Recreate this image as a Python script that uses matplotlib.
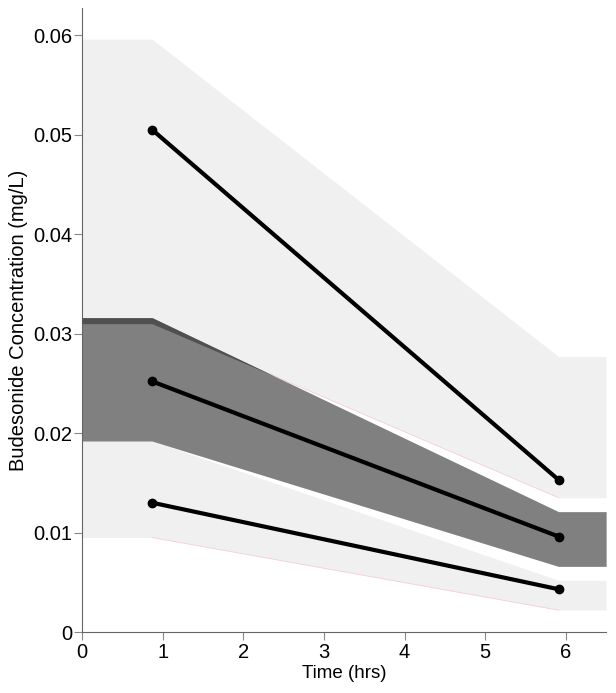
import numpy as np
import matplotlib
matplotlib.use("Agg")
import matplotlib.pyplot as plt

# Band x-support (flat before first and after last time)
band_x = [0.0, 0.87, 5.91, 6.5]
upper_lo = [0.0310, 0.0310, 0.0135, 0.0135]
upper_hi = [0.0596, 0.0596, 0.0277, 0.0277]
med_lo = [0.0192, 0.0192, 0.0066, 0.0066]
med_hi = [0.0316, 0.0316, 0.0121, 0.0121]
lower_lo = [0.0095, 0.0095, 0.0022, 0.0022]
lower_hi = [0.0192, 0.0192, 0.0052, 0.0052]

# Observed percentile lines
obs_t = [0.87, 5.91]
obs_p95 = [0.0505, 0.0153]
obs_p50 = [0.0252, 0.0096]
obs_p05 = [0.0130, 0.0043]

plt.rcParams['font.family'] = ['Liberation Sans', 'DejaVu Sans']
fig = plt.figure(figsize=(6.16, 6.93), dpi=100)
ax = fig.add_axes([0.133, 0.088, 0.851, 0.900])

bx = np.array(band_x)
light = '#f0f0f0'
ax.fill_between(bx, upper_lo, upper_hi, color=light, lw=0, zorder=1)
ax.fill_between(bx, lower_lo, lower_hi, color=light, lw=0, zorder=1)

# faint pink lower edges on sloped part (under the median band)
seg = bx[1:3]
for lo in (upper_lo, med_lo, lower_lo):
    ax.plot(seg, lo[1:3], color='#f7d0d5', lw=0.6, zorder=1.5)

ax.fill_between(bx, med_lo, med_hi, color='#808080', lw=0, zorder=2)

# overlap of upper band with median band (darker strip)
xf = np.linspace(0, 6.5, 400)
ulo = np.interp(xf, bx, upper_lo)
mhi = np.interp(xf, bx, med_hi)
ax.fill_between(xf, ulo, np.maximum(ulo, mhi), where=mhi > ulo,
                color='#505050', lw=0, zorder=3)

for y in (obs_p95, obs_p50, obs_p05):
    ax.plot(obs_t, y, color='black', lw=3, marker='o', ms=6, zorder=5,
            solid_capstyle='round')

ax.set_xlim(0, 6.5)
ax.set_ylim(0, 0.0627)
ax.set_xticks([0, 1, 2, 3, 4, 5, 6])
ax.set_xticklabels(['0', '1', '2', '3', '4', '5', '6'])
ax.set_yticks([0, 0.01, 0.02, 0.03, 0.04, 0.05, 0.06])
ax.set_yticklabels(['0', '0.01', '0.02', '0.03', '0.04', '0.05', '0.06'])
for s in ('top', 'right'):
    ax.spines[s].set_visible(False)
for s in ('left', 'bottom'):
    ax.spines[s].set_color('#666666')
    ax.spines[s].set_linewidth(0.8)
ax.tick_params(direction='out', length=6, width=0.8, color='#888888',
               labelsize=14.5, pad=1)
ax.tick_params(axis='x', pad=2)
ax.set_xlabel('Time (hrs)', fontsize=13.5, labelpad=2)
ax.set_ylabel('Budesonide Concentration (mg/L)', fontsize=14.5, labelpad=4)

fig.savefig('out.png', dpi=100)
